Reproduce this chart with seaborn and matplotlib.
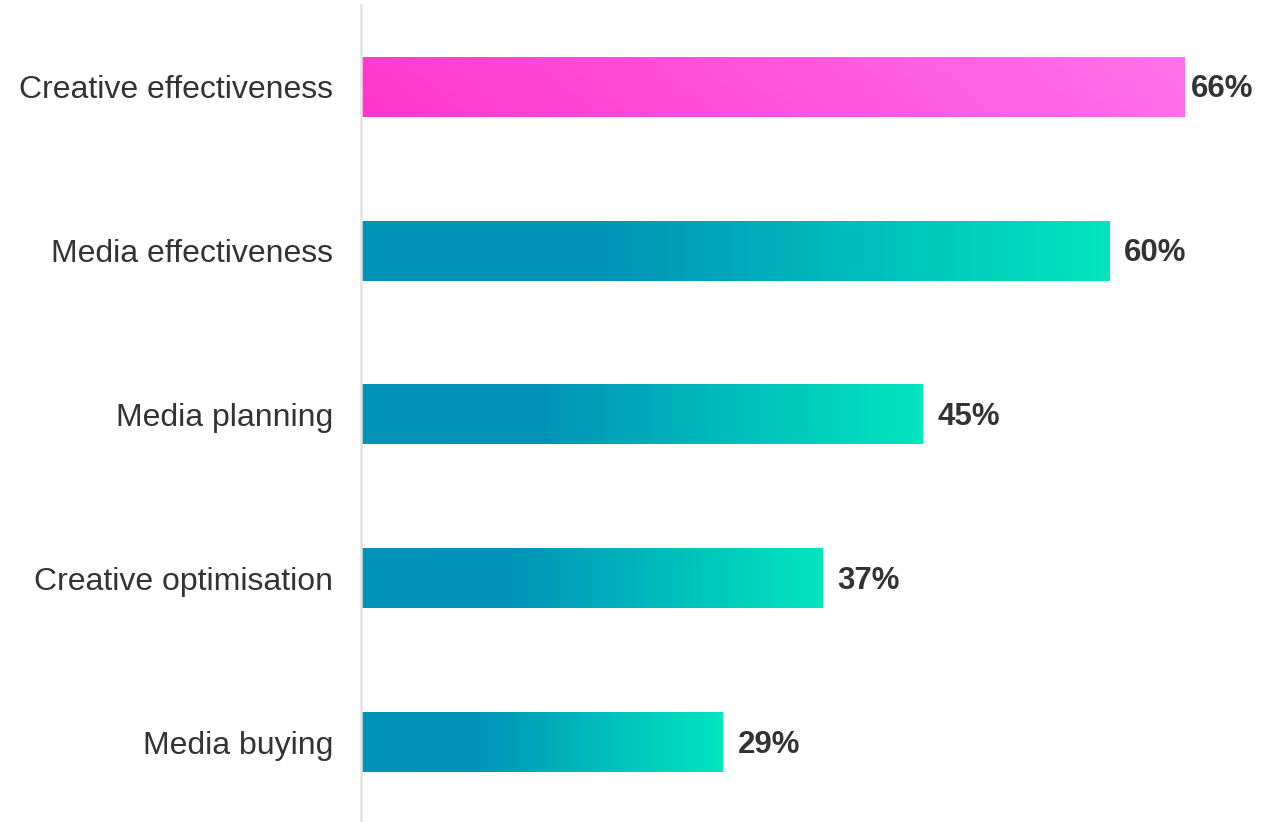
import numpy as np
import pandas as pd
import matplotlib
matplotlib.use("Agg")
import matplotlib.pyplot as plt
from matplotlib.colors import LinearSegmentedColormap
import seaborn as sns

categories = ["Creative effectiveness", "Media effectiveness", "Media planning",
              "Creative optimisation", "Media buying"]
values = [66, 60, 45, 37, 29]
value_labels = ["66%", "60%", "45%", "37%", "29%"]

df = pd.DataFrame({"category": categories, "value": values})

sns.set_theme(style="white")
plt.rcParams["font.family"] = ["Liberation Sans", "DejaVu Sans"]

fig = plt.figure(figsize=(12.79, 8.22), dpi=100)
ax = fig.add_axes([361 / 1279, 0.0, 1 - 361 / 1279, 1 - 5 / 822])

sns.barplot(data=df, x="value", y="category", orient="h", ax=ax,
            color="#0095b8", width=0.36, saturation=1)

teal = LinearSegmentedColormap.from_list(
    "teal", [(0.0, "#0094b7"), (0.32, "#0093b9"), (1.0, "#00e6be")])
pink = LinearSegmentedColormap.from_list(
    "pink", [(0.0, "#ff36cf"), (1.0, "#ff72e9")])

xmax = 73.6
ax.set_xlim(0, xmax)
ax.set_ylim(4.482, -0.5)

# Replace flat fills with gradient images spanning each bar
for i, patch in enumerate(ax.patches):
    x0, y0 = patch.get_x(), patch.get_y()
    w, h = patch.get_width(), patch.get_height()
    patch.set_alpha(0)
    if i == 0:
        gx = np.linspace(0, 1, 256)[None, :]
        gy = np.linspace(0, 1, 32)[:, None]
        grad = np.clip(0.92 * gx + 0.08 * (1 - gy), 0, 1)
        cmap = pink
    else:
        grad = np.linspace(0, 1, 256)[None, :]
        cmap = teal
    ax.imshow(grad, cmap=cmap, aspect="auto", interpolation="bilinear",
              extent=[x0, x0 + w, y0 + h, y0], zorder=2, vmin=0, vmax=1)
    # tighter gap when the label would run out of room on the right
    gap = 0.55 if x0 + w + 9.0 > xmax else 1.2
    ax.text(x0 + w + gap, y0 + h / 2 + 0.015, value_labels[i], ha="left",
            va="center", fontsize=22.5, fontweight="bold", color="#333333",
            zorder=3)

ax.set_xlabel("")
ax.set_ylabel("")
ax.set_xticks([])
ax.tick_params(axis="y", length=0, pad=20, labelsize=23, labelcolor="#333333")
for side in ["top", "right", "bottom"]:
    ax.spines[side].set_visible(False)
ax.spines["left"].set_color("#e2e2e2")
ax.spines["left"].set_linewidth(1.8)
ax.spines["left"].set_zorder(4)

fig.savefig("out.png", dpi=100)
